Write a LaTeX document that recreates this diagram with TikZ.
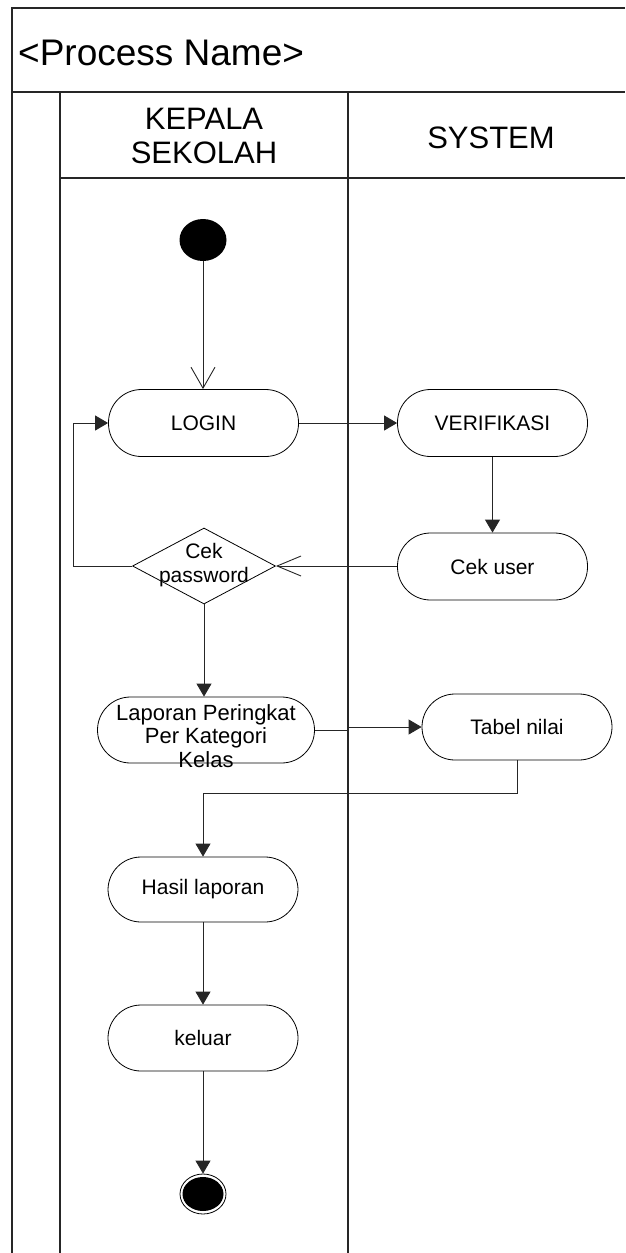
\documentclass[tikz,border=0pt]{standalone}
\usepackage{fontspec}
\setmainfont{Liberation Sans}
\usetikzlibrary{arrows.meta,shapes.geometric}
\begin{document}
\begin{tikzpicture}[x=1pt,y=-1pt,
  frame/.style={line width=1.4pt, draw=black!85},
  act/.style={draw, line width=0.8pt, rounded corners=33pt, minimum width=190pt,
    minimum height=67pt, inner sep=0pt, font=\fontsize{21}{23}\selectfont, align=center},
  decision/.style={draw, diamond, line width=0.8pt, minimum width=143pt,
    minimum height=76pt, inner sep=0pt},
  lbl/.style={font=\fontsize{21}{23.5}\selectfont, align=center, inner sep=0pt},
  flow/.style={draw=black!85, line width=0.9pt, -{Triangle[length=13pt,width=15pt]}},
  openflow/.style={draw=black!85, line width=0.9pt, -{Straight Barb[length=21pt,width=24pt]}}
]
\useasboundingbox (0,0) rectangle (625,1253);

% swimlane frame
\draw[frame] (625,8) -- (12,8) -- (12,1253);
\draw[frame] (12,92) -- (625,92);
\draw[frame] (60,92) -- (60,1253);
\draw[frame] (348,92) -- (348,1253);
\draw[frame] (60,178) -- (625,178);

\node[anchor=west, font=\fontsize{37}{40}\selectfont, inner sep=0pt] (title) at (18,53) {<Process Name>};
\node[font=\fontsize{31}{34}\selectfont, align=center, inner sep=0pt] (lanea) at (204,136) {KEPALA\\SEKOLAH};
\node[font=\fontsize{31}{34}\selectfont, inner sep=0pt] (laneb) at (491,138) {SYSTEM};

% activities
\node[ellipse, fill=black, minimum width=47pt, minimum height=42pt, inner sep=0pt] (start) at (203,240) {};
\node[act] (login) at (203.5,423) {LOGIN};
\node[act] (verif) at (492.5,423) {VERIFIKASI};
\node[act] (cek) at (492.5,566.5) {Cek user};
\node[decision] (dia) at (204,566) {};
\node[lbl] (diatxt) at (204,565) {Cek\\password};
\node[act, minimum width=217pt, minimum height=66pt] (lap) at (206,730) {};
\node[lbl, font=\fontsize{22}{23.5}\selectfont] (laptxt) at (206,736) {Laporan Peringkat\\Per Kategori\\Kelas};
\node[act, minimum height=66pt] (tab) at (517,727) {Tabel nilai};
\node[act, minimum height=65pt] (hasil) at (203,889.5) {Hasil laporan};
\node[act, minimum height=66pt] (keluar) at (203,1038) {keluar};
\node[ellipse, draw, line width=0.8pt, minimum width=46pt, minimum height=40pt, inner sep=0pt] (end) at (203,1194) {};
\fill (end.center) ellipse [x radius=20.5pt, y radius=17pt];

% control flows
\draw[openflow] (start.south) -- (start.south |- login.north);
\draw[flow] (login.east) -- (verif.west);
\draw[flow] (verif.south) -- (cek.north);
\draw[draw=black!85, line width=0.9pt, -{Straight Barb[length=24pt,width=20pt]}]
  (cek.west) -- ++(-36,0) |- (dia.east);
\draw[flow] (dia.west) -- ++(-59,0) |- (login.west);
\draw[flow] (dia.south) -- (dia.south |- lap.north);
\draw[flow] (lap.east) -- ++(33,0) |- (tab.west);
\draw[flow] (tab.south) -- ++(0,33) -| (hasil.north);
\draw[flow] (hasil) -- (keluar);
\draw[flow] (keluar) -- (end);
\end{tikzpicture}
\end{document}
